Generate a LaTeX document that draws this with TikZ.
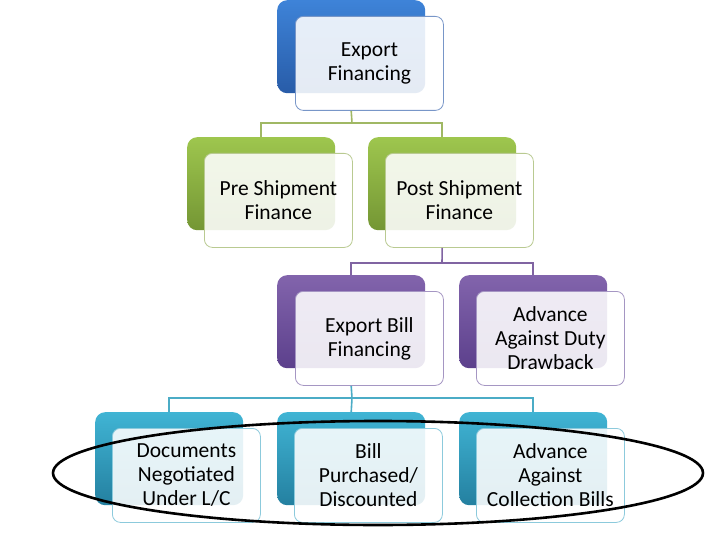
\documentclass[tikz,border=0pt]{standalone}
\usepackage{fontspec}
\setmainfont{Carlito}
\usetikzlibrary{shapes.geometric}
\begin{document}
\begin{tikzpicture}[x=1pt,y=-1pt,
  backbox/.style={rectangle, rounded corners=10pt, anchor=north west, inner sep=0pt,
    minimum width=148pt, minimum height=93pt, draw=none},
  frontbox/.style={rectangle, rounded corners=8pt, anchor=north west, inner sep=0pt,
    minimum width=148pt, minimum height=94pt, fill=white, fill opacity=0.88, text opacity=1,
    align=center, line width=0.8pt, font=\fontsize{21.5}{24}\selectfont},
  bluebk/.style={backbox, top color=bluetop, bottom color=bluebot},
  greenbk/.style={backbox, top color=greentop, bottom color=greenbot},
  purplebk/.style={backbox, top color=purptop, bottom color=purpbot},
  cyanbk/.style={backbox, top color=cyantop, bottom color=cyanbot},
  bluefr/.style={frontbox, draw=blueedge},
  greenfr/.style={frontbox, draw=greenedge},
  purplefr/.style={frontbox, draw=purpedge},
  cyanfr/.style={frontbox, draw=cyanedge},
  conn/.style={line width=1.6pt}
]
\definecolor{bluetop}{RGB}{62,131,216}
\definecolor{bluebot}{RGB}{40,92,168}
\definecolor{blueedge}{RGB}{120,150,200}
\definecolor{greentop}{RGB}{158,198,78}
\definecolor{greenbot}{RGB}{116,150,52}
\definecolor{greenedge}{RGB}{185,202,145}
\definecolor{purptop}{RGB}{130,100,172}
\definecolor{purpbot}{RGB}{92,64,140}
\definecolor{purpedge}{RGB}{165,150,195}
\definecolor{cyantop}{RGB}{64,180,212}
\definecolor{cyanbot}{RGB}{36,128,160}
\definecolor{cyanedge}{RGB}{140,202,220}
\definecolor{connG}{RGB}{160,184,100}
\definecolor{connP}{RGB}{128,100,162}
\definecolor{connC}{RGB}{75,172,198}

\useasboundingbox (0,0) rectangle (720,540);
\fill[white] (0,0) rectangle (720,540);

% back boxes
\node[bluebk] (tb) at (277,0) {};
\node[greenbk] (preb) at (187,137) {};
\node[greenbk] (postb) at (368,137) {};
\node[purplebk] (ebb) at (277,275) {};
\node[purplebk] (dutyb) at (459,275) {};
\node[cyanbk] (docb) at (95,412) {};
\node[cyanbk] (billb) at (277,412) {};
\node[cyanbk] (collb) at (459,412) {};

% front boxes
\node[bluefr] (tf) at (295,16) {Export\\Financing};
\node[greenfr] (pref) at (204,153) {Pre Shipment\\Finance};
\node[greenfr] (postf) at (385,153) {Post Shipment\\Finance};
\node[purplefr] (ebf) at (295,291) {Export Bill\\Financing};
\node[purplefr] (dutyf) at (476,291) {Advance\\Against Duty\\Drawback};
\node[cyanfr] (docf) at (112,428) {Documents\\Negotiated\\Under L/C};
\node[cyanfr] (billf) at (294,428) {Bill\\Purchased/\\Discounted};
\node[cyanfr] (collf) at (476,428) {Advance\\Against\\Collection Bills};

% connectors
\coordinate (j1) at (352,123);
\coordinate (j2) at (442,263);
\coordinate (j3) at (352,398);
\draw[conn, connG] (tb.south |- tf.south) -- (j1);
\draw[conn, connG] (preb.north) |- (j1) -| (postb.north);
\draw[conn, connP] (postb.south |- postf.south) -- (j2);
\draw[conn, connP] (ebb.north) |- (j2) -| (dutyb.north);
\draw[conn, connC] (ebb.south |- ebf.south) -- (j3);
\draw[conn, connC] (docb.north) |- (j3) -| (collb.north);
\draw[conn, connC] (j3) -- (billb.north);

% ellipse
\node[draw=black, line width=2.6pt, ellipse, minimum width=650pt, minimum height=104pt, inner sep=0pt] (ring) at (378,473) {};
\end{tikzpicture}
\end{document}
